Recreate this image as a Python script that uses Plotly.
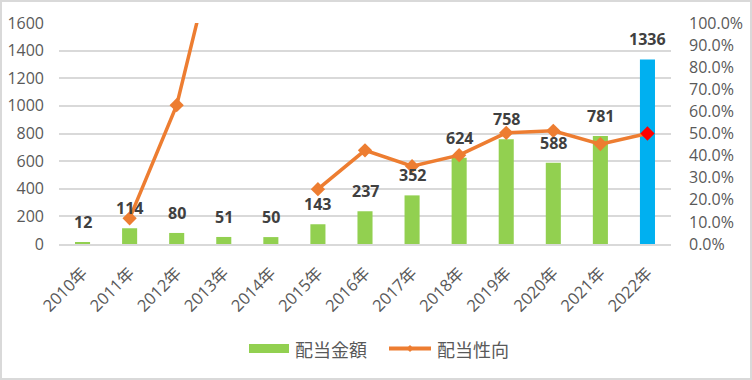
import plotly.graph_objects as go

years = ["2010年", "2011年", "2012年", "2013年", "2014年", "2015年", "2016年",
         "2017年", "2018年", "2019年", "2020年", "2021年", "2022年"]
dividend = [12, 114, 80, 51, 50, 143, 237, 352, 624, 758, 588, 781, 1336]
payout = [None, 0.116, 0.628, 1.50, None, 0.248, 0.424, 0.352, 0.402, 0.503, 0.512, 0.452, 0.500]
legend_names = ["配当金額", "配当性向"]

bar_green = "#92D050"
bar_blue = "#00B0F0"
orange = "#ED7D31"
grey_text = "#595959"

W, H = 752, 380
ml, mr, mt, mb = 59, 81, 23, 136
pw, ph = W - ml - mr, H - mt - mb


def px(xp):
    return (xp - ml) / pw


def py(yp):
    return (H - mb - yp) / ph


bar_colors = [bar_green] * (len(years) - 1) + [bar_blue]
marker_colors = [orange] * (len(years) - 1) + ["#FF0000"]

fig = go.Figure()
fig.add_trace(go.Bar(
    x=years, y=dividend, name=legend_names[0],
    marker=dict(color=bar_colors, line=dict(width=0)),
    width=0.32, yaxis="y", showlegend=False,
))
fig.add_trace(go.Scatter(
    x=years, y=payout, name=legend_names[1], yaxis="y2",
    mode="lines+markers", connectgaps=False,
    line=dict(color=orange, width=3.5),
    marker=dict(symbol="diamond", size=11, color=marker_colors),
    showlegend=False,
))

for x, v in zip(years, dividend):
    fig.add_annotation(x=x, y=v, xref="x", yref="y", text=str(v),
                       showarrow=False, yshift=20,
                       font=dict(family="Open Sans, Noto Sans CJK JP", size=16,
                                 color="#404040", weight="bold"))

# outer chart border
fig.add_shape(type="rect", xref="paper", yref="paper",
              x0=px(1), x1=px(W - 1), y0=py(H - 1), y1=py(1),
              line=dict(color="#D9D9D9", width=2), layer="below")

# custom legend
leg_y = 348.5
fig.add_shape(type="rect", xref="paper", yref="paper",
              x0=px(249), x1=px(289), y0=py(353), y1=py(344),
              fillcolor=bar_green, line=dict(width=0))
fig.add_annotation(xref="paper", yref="paper", x=px(293), y=py(leg_y),
                   xanchor="left", yanchor="middle", showarrow=False,
                   text=legend_names[0],
                   font=dict(family="Noto Sans CJK JP", size=18, color=grey_text))
fig.add_shape(type="line", xref="paper", yref="paper",
              x0=px(389), x1=px(431), y0=py(leg_y), y1=py(leg_y),
              line=dict(color=orange, width=4))
d = 3.5
fig.add_shape(type="path", xref="paper", yref="paper",
              path=f"M {px(410)} {py(leg_y - d)} L {px(410 + d)} {py(leg_y)} "
                   f"L {px(410)} {py(leg_y + d)} L {px(410 - d)} {py(leg_y)} Z",
              fillcolor=orange, line=dict(width=0))
fig.add_annotation(xref="paper", yref="paper", x=px(435), y=py(leg_y),
                   xanchor="left", yanchor="middle", showarrow=False,
                   text=legend_names[1],
                   font=dict(family="Noto Sans CJK JP", size=18, color=grey_text))

tick_font = dict(family="Open Sans, Noto Sans CJK JP", size=16, color=grey_text)

fig.update_layout(
    width=W, height=H,
    margin=dict(l=ml, r=mr, t=mt, b=mb, pad=0, autoexpand=False),
    paper_bgcolor="white", plot_bgcolor="white",
    showlegend=False,
    xaxis=dict(tickangle=-45, tickfont=dict(family="Open Sans, Noto Sans CJK JP", size=16.5, color=grey_text),
               showline=True, linecolor="#D9D9D9", linewidth=2, showgrid=False,
               ticks="", ticklabelstandoff=11, automargin=False,
               range=[-0.5, len(years) - 0.5]),
    yaxis=dict(range=[0, 1600], dtick=200, showgrid=True, gridcolor="#D9D9D9", gridwidth=1.5,
               zeroline=False, tickfont=tick_font, ticklabelstandoff=14, showline=False,
               automargin=False),
    yaxis2=dict(range=[0, 1], dtick=0.1, tickformat=".1%", overlaying="y", side="right",
                showgrid=False, zeroline=False, tickfont=tick_font, ticklabelstandoff=17,
                showline=False, automargin=False),
    bargap=0.68,
)

fig.write_html("out.html", config={"displayModeBar": False},
               post_script="document.body.style.margin='0';document.body.style.overflow='hidden';")
